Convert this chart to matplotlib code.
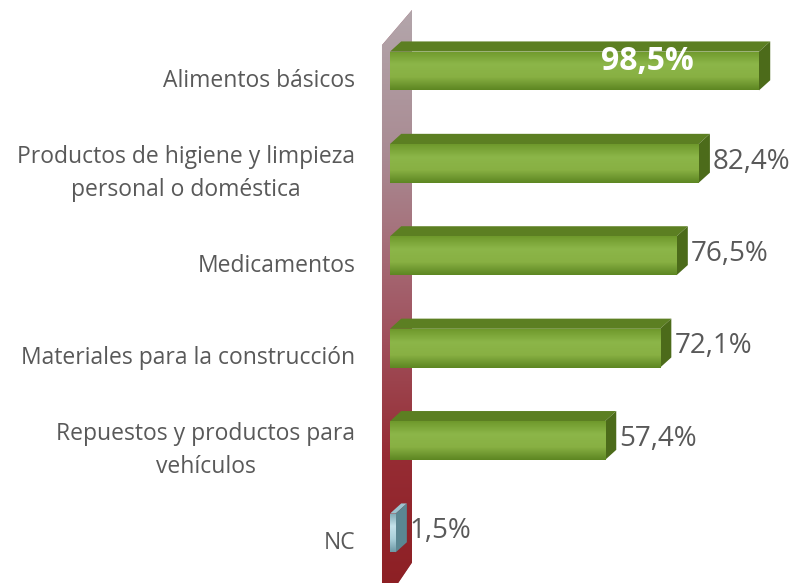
import matplotlib
matplotlib.use("Agg")
import matplotlib.pyplot as plt
import numpy as np
from matplotlib.patches import Polygon
from matplotlib.colors import to_rgb

categories = ["Alimentos básicos",
              "Productos de higiene y limpieza\npersonal o doméstica",
              "Medicamentos",
              "Materiales para la construcción",
              "Repuestos y productos para\nvehículos",
              "NC"]
values = [98.5, 82.4, 76.5, 72.1, 57.4, 1.5]
value_labels = ["98,5%", "82,4%", "76,5%", "72,1%", "57,4%", "1,5%"]

plt.rcParams["font.family"] = ["Open Sans", "DejaVu Sans"]
GREY = "#595959"


def gradient(ax, clip, x0, x1, ytop, ybot, stops, z):
    # vertical gradient, stops listed from top to bottom
    n = 80
    rgb = np.array([to_rgb(c) for c in stops])
    pos = np.linspace(0, 1, len(stops))
    t = np.linspace(0, 1, n)
    arr = np.stack([np.interp(t, pos, rgb[:, k]) for k in range(3)], axis=-1)
    arr = arr[:, None, :]
    im = ax.imshow(arr, extent=(x0, x1, ytop, ybot), origin="lower",
                   aspect="auto", zorder=z, interpolation="bilinear")
    im.set_clip_path(clip)
    return im


fig = plt.figure(figsize=(7.96, 5.83), dpi=100)
ax = fig.add_axes([370 / 796, 0, 426 / 796, 1])
ax.axis("off")

# wall on the left of the bars
wall = Polygon([(-2.14, 5.8), (-2.14, -0.28), (5.87, -0.66), (5.87, 5.32)],
               closed=True, facecolor="#a06070", edgecolor="none", zorder=1)
ax.add_patch(wall)
gradient(ax, wall, -2.2, 6.0, -0.7, 5.8,
         ["#b3a6ab", "#a98a92", "#a25a66", "#962c34", "#8c1e22"], 1.1)

y = np.arange(len(values))
h = 0.42
dx, dy = 3.0, 0.11

for i, (yy, v) in enumerate(zip(y, values)):
    if categories[i] == "NC":
        front_c = ["#7fa9b4", "#c4e2ea", "#a9cfd9", "#6e99a5"]
        top_c, side_c = "#9cc4cf", "#5b8792"
    else:
        front_c = ["#6f992c", "#8cb649", "#88b043", "#5d8622"]
        top_c, side_c = "#5c7f22", "#4c6b1a"
    bars = ax.barh(yy, v, height=h, left=0, color=front_c[1],
                   edgecolor="none", zorder=3)
    b = bars[0]
    gradient(ax, b, 0, v, yy - h / 2, yy + h / 2, front_c, 3.1)
    top = Polygon([(0, yy - h / 2), (dx, yy - h / 2 - dy),
                   (v + dx, yy - h / 2 - dy), (v, yy - h / 2)],
                  closed=True, facecolor=top_c, edgecolor="none", zorder=3)
    side = Polygon([(v, yy - h / 2), (v + dx, yy - h / 2 - dy),
                    (v + dx, yy + h / 2 - dy), (v, yy + h / 2)],
                   closed=True, facecolor=side_c, edgecolor="none", zorder=3)
    ax.add_patch(top)
    ax.add_patch(side)

    ax.text(-9.3, yy + 0.11, categories[i], ha="right", va="center",
            color=GREY, fontsize=16.5, linespacing=1.5, multialignment="center")
    if i == 0:
        ax.text(v - 17.5, yy - 0.1, value_labels[i], ha="right", va="center",
                color="white", fontsize=23, fontweight="bold", zorder=5)
    else:
        ax.text(v + dx + 0.8, yy - 0.02, value_labels[i], ha="left",
                va="center", color=GREY, fontsize=20, zorder=5)

ax.set_xlim(-20 / 3.746, 406 / 3.746)
ax.set_ylim((583 - 71) / 92.4, -71 / 92.4)

fig.savefig("out.png", dpi=100, facecolor="white")
